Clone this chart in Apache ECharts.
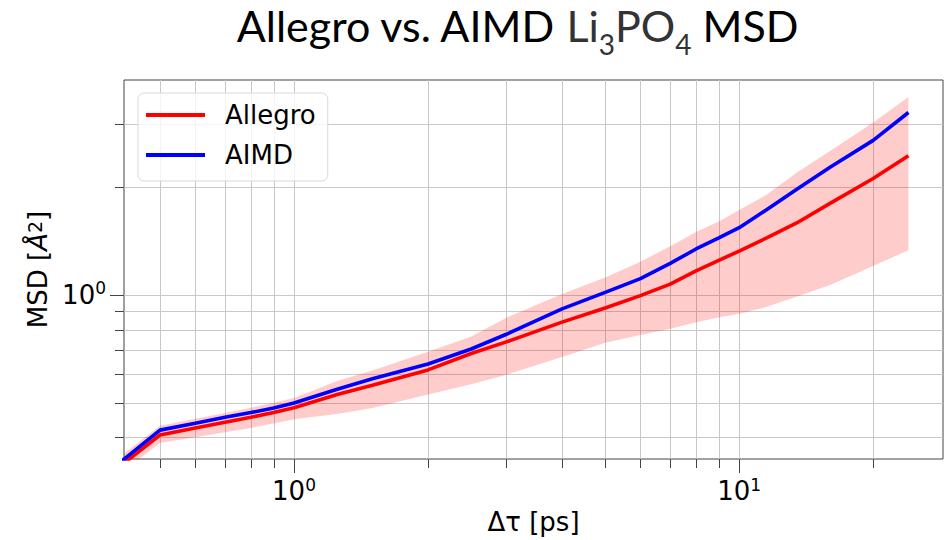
<!DOCTYPE html>
<html><head><meta charset="utf-8">
<script src="https://cdn.jsdelivr.net/npm/echarts@6/dist/echarts.min.js"></script>
<style>html,body{margin:0;padding:0;background:#fff}#c{width:945px;height:540px}</style>
</head><body><div id="c"></div>
<script>
// Δτ [ps]
const dt = [0.4, 0.5, 0.6, 0.7, 0.8, 0.9, 1.0, 1.25, 1.5, 2.0, 2.5, 3.0, 4.0, 5.0, 6.0, 7.0, 8.0, 9.0, 10, 11.5, 13.5, 16, 20, 24];
// MSD [Å^2]
const allegroMsd = [0.327, 0.406, 0.425, 0.441, 0.455, 0.469, 0.484, 0.527, 0.559, 0.617, 0.686, 0.739, 0.839, 0.919, 0.995, 1.071, 1.166, 1.248, 1.325, 1.44, 1.59, 1.80, 2.112, 2.447];
const aimdMsd = [0.335, 0.419, 0.438, 0.455, 0.469, 0.483, 0.499, 0.545, 0.583, 0.641, 0.706, 0.776, 0.914, 1.016, 1.11, 1.224, 1.343, 1.442, 1.540, 1.725, 1.975, 2.27, 2.70, 3.23];
const allegroUpper = [0.348, 0.431, 0.451, 0.468, 0.484, 0.500, 0.515, 0.575, 0.615, 0.694, 0.765, 0.863, 1.005, 1.117, 1.237, 1.367, 1.497, 1.603, 1.726, 1.900, 2.20, 2.52, 3.03, 3.57];
const allegroLower = [0.312, 0.386, 0.400, 0.413, 0.425, 0.437, 0.449, 0.465, 0.483, 0.527, 0.563, 0.598, 0.670, 0.735, 0.772, 0.804, 0.839, 0.865, 0.885, 0.924, 0.99, 1.065, 1.204, 1.333];

const xMajorTicks = [1, 10];
const xMinorTicks = [0.5, 0.6, 0.7, 0.8, 0.9, 2, 3, 4, 5, 6, 7, 8, 9, 20];
const yMajorTicks = [1];
const yMinorTicks = [0.4, 0.5, 0.6, 0.7, 0.8, 0.9, 2, 3];
const xRange = [0.415, 28.7];
const yRange = [0.348, 3.98];

const FONT = 'DejaVu Sans';
const chart = echarts.init(document.getElementById('c'), null, {renderer: 'svg'});

function powLabel(v) {
  const l = Math.log10(v);
  const e = Math.round(l);
  if (Math.abs(l - e) > 1e-6) return '';
  return '{b|10}{s|' + e + '}';
}
const labelRich = {
  b: {fontSize: 26, fontFamily: FONT, color: '#000', lineHeight: 30},
  s: {fontSize: 17, fontFamily: FONT, color: '#000', verticalAlign: 'top', lineHeight: 17}
};

const option = {
  animation: false,
  backgroundColor: '#fff',
  title: {
    text: 'Allegro vs. AIMD {g|Li}{sub|3}{g|PO}{sub|4} MSD',
    left: 512, top: -1, textAlign: 'center',
    textStyle: {
      fontFamily: 'Lato', fontSize: 43, fontWeight: 'normal', color: '#000',
      rich: {
        g: {fontFamily: 'Lato', fontSize: 43, color: '#333'},
        sub: {fontFamily: 'Lato', fontSize: 28, color: '#333', verticalAlign: 'bottom', lineHeight: 28, padding: [0, 0, -11, 0]}
      }
    }
  },
  grid: {left: 124, top: 80, right: 2, bottom: 77, show: true, borderColor: '#444', borderWidth: 1, backgroundColor: 'transparent'},
  legend: {
    orient: 'vertical', left: 138, top: 93, icon: 'rect', itemWidth: 59, itemHeight: 4, itemGap: 10,
    padding: [7, 12, 11, 8], backgroundColor: 'rgba(255,255,255,0.8)', borderColor: '#d9d9d9', borderWidth: 1, borderRadius: 6,
    textStyle: {fontFamily: FONT, fontSize: 26, color: '#000', padding: [0, 0, 0, 15], lineHeight: 30},
    data: ['Allegro', 'AIMD']
  },
  xAxis: {
    type: 'log', logBase: 10, min: xRange[0], max: xRange[1],
    name: 'Δτ [ps]', nameLocation: 'middle', nameGap: 50,
    nameTextStyle: {fontFamily: FONT, fontSize: 26, color: '#000'},
    axisLine: {show: false}, axisTick: {show: false}, splitLine: {show: false}, minorTick: {show: false},
    axisLabel: {margin: 17, formatter: powLabel, rich: labelRich, showMinLabel: false, showMaxLabel: false}
  },
  yAxis: {
    type: 'log', logBase: 10, min: yRange[0], max: yRange[1],
    name: 'MSD [{i|Å}{s|2}]', nameLocation: 'middle', nameGap: 70,
    nameTextStyle: {fontFamily: FONT, fontSize: 26, color: '#000', rich: {
      i: {fontFamily: FONT, fontSize: 26, fontStyle: 'italic', color: '#000'},
      s: {fontFamily: FONT, fontSize: 19, color: '#000', verticalAlign: 'top', lineHeight: 19}
    }},
    axisLine: {show: false}, axisTick: {show: false}, splitLine: {show: false}, minorTick: {show: false},
    axisLabel: {margin: 18, formatter: powLabel, rich: labelRich, showMinLabel: false, showMaxLabel: false}
  },
  series: [
    {
      type: 'custom', name: 'gridlines', z: 1, silent: true, clip: false,
      data: [[1, 1]], encode: {x: 0, y: 1},
      renderItem: function (params, api) {
        const cs = params.coordSys;
        const L = cs.x, T = cs.y, R = cs.x + cs.width, B = cs.y + cs.height;
        const ch = [];
        const gl = {stroke: '#c8c8c8', lineWidth: 1};
        const tk = {stroke: '#444', lineWidth: 1};
        const addX = (v, len) => {
          const p = Math.round(api.coord([v, 1])[0]) + 0.5;
          ch.push({type: 'line', shape: {x1: p, y1: T, x2: p, y2: B}, style: gl});
          ch.push({type: 'line', shape: {x1: p, y1: B, x2: p, y2: B + len}, style: tk});
        };
        const addY = (v, len) => {
          const p = Math.round(api.coord([1, v])[1]) + 0.5;
          ch.push({type: 'line', shape: {x1: L, y1: p, x2: R, y2: p}, style: gl});
          ch.push({type: 'line', shape: {x1: L - len, y1: p, x2: L, y2: p}, style: tk});
        };
        xMinorTicks.forEach(v => addX(v, 9));
        xMajorTicks.forEach(v => addX(v, 14));
        yMinorTicks.forEach(v => addY(v, 9));
        yMajorTicks.forEach(v => addY(v, 14));
        return {type: 'group', children: ch};
      }
    },
    {
      type: 'custom', name: 'band', z: 2, silent: true, clip: true,
      data: [[1, 1]], encode: {x: 0, y: 1},
      renderItem: function (params, api) {
        const pts = [];
        for (let i = 0; i < dt.length; i++) pts.push(api.coord([dt[i], allegroUpper[i]]));
        for (let i = dt.length - 1; i >= 0; i--) pts.push(api.coord([dt[i], allegroLower[i]]));
        return {type: 'polygon', shape: {points: pts}, style: {fill: 'rgba(255,0,0,0.2)'}};
      }
    },
    {
      type: 'line', name: 'Allegro', z: 3, color: '#ff0000', showSymbol: false, clip: true,
      lineStyle: {width: 3.6, color: '#ff0000'},
      data: dt.map((x, i) => [x, allegroMsd[i]])
    },
    {
      type: 'line', name: 'AIMD', z: 4, color: '#0000ff', showSymbol: false, clip: true,
      lineStyle: {width: 3.6, color: '#0000ff'},
      data: dt.map((x, i) => [x, aimdMsd[i]])
    }
  ]
};
chart.setOption(option);
</script></body></html>
